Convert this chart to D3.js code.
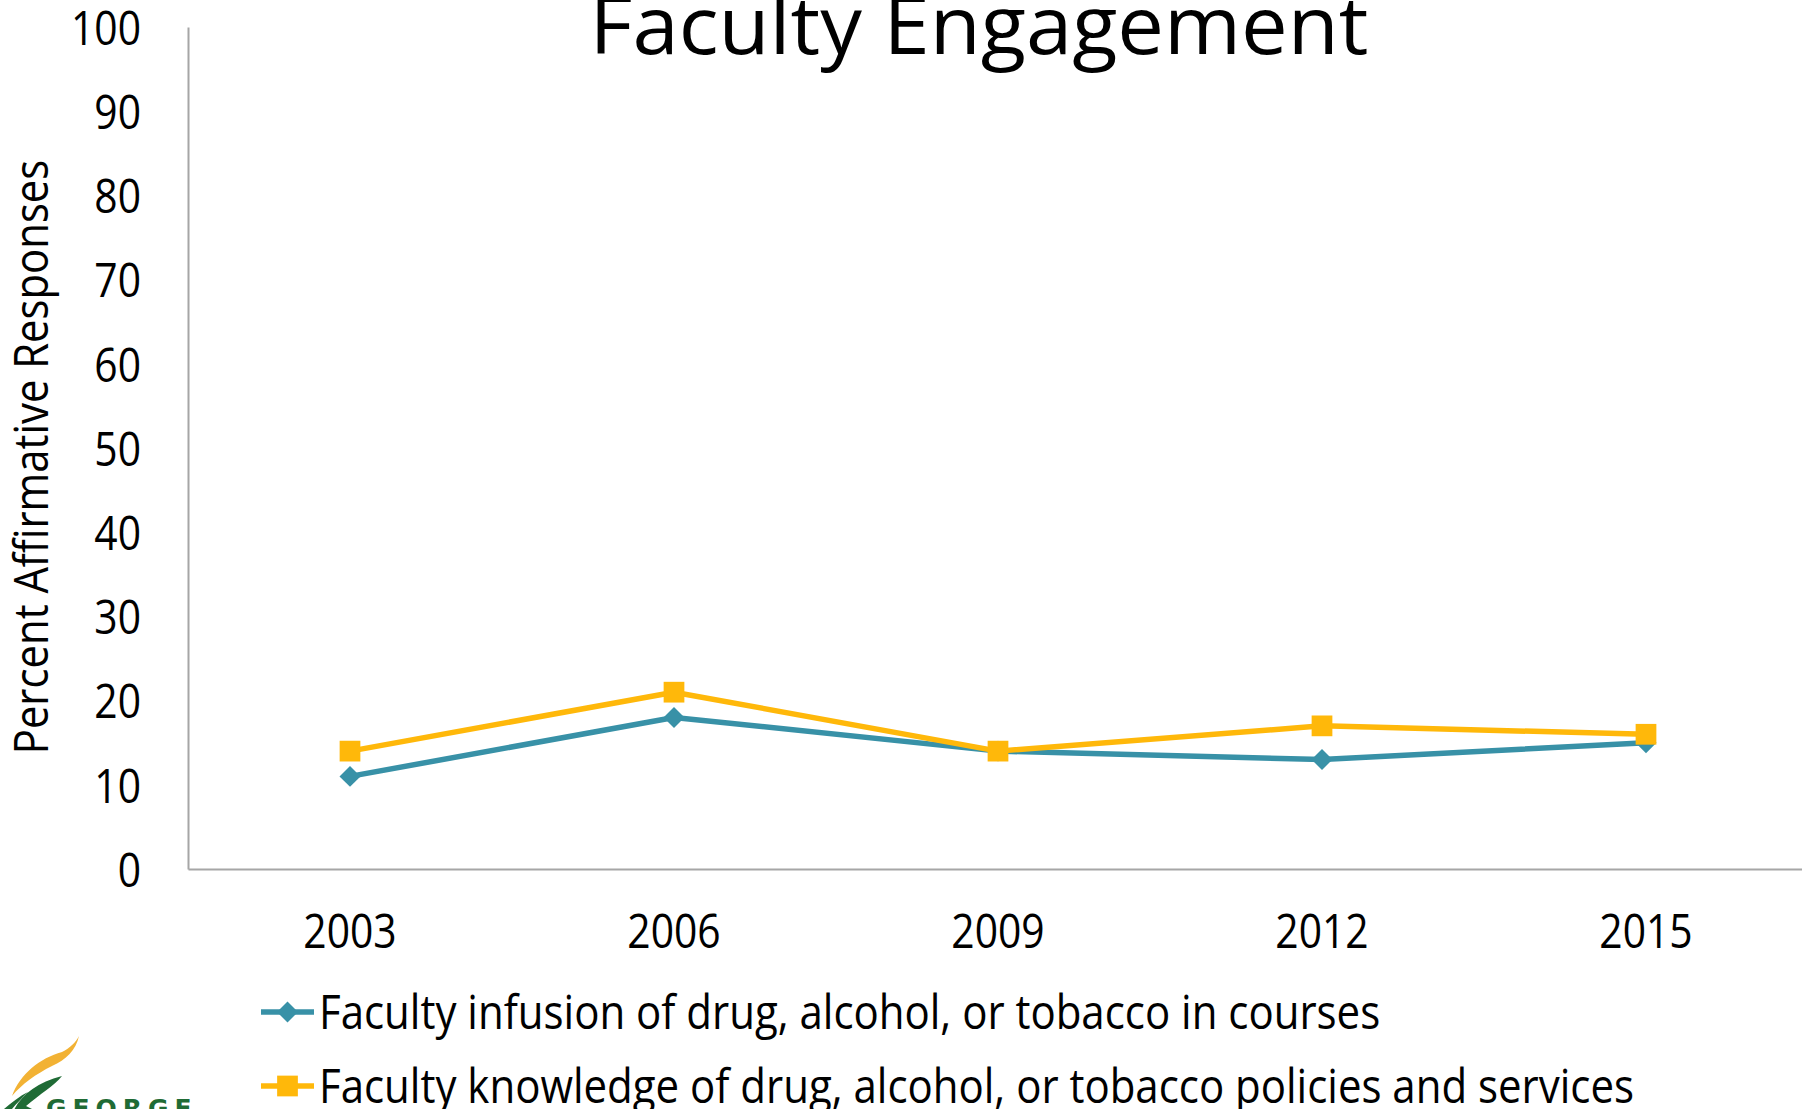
<!DOCTYPE html>
<meta charset="utf-8">
<html lang="en">
<head>
  <title>Faculty Engagement</title>
  <script src="https://d3js.org/d3.v7.min.js"></script>
  <style>
    html, body { margin: 0; padding: 0; background: #fff; overflow: hidden; }
    svg text { font-family: "Open Sans", "DejaVu Sans", sans-serif; fill: #000; }
  </style>
</head>
<body>
<div id="chart"></div>
<script>

// chart data
var years = ["2003", "2006", "2009", "2012", "2015"];
var infusion = [11, 18, 14, 13, 15];
var knowledge = [14, 21, 14, 17, 16];
var seriesNames = [
  "Faculty infusion of drug, alcohol, or tobacco in courses",
  "Faculty knowledge of drug, alcohol, or tobacco policies and services"
];
var yTicks = [0, 10, 20, 30, 40, 50, 60, 70, 80, 90, 100];

var teal = "#3891a7", gold = "#ffb80a";

// the original text is narrow and tall, so squeeze it sideways
var sx = 0.85;

var W = 1802, H = 1109;
var margin = {top: 27, right: -6, bottom: 240, left: 188};

var svg = d3.select("#chart").append("svg")
  .attr("width", W)
  .attr("height", H);

var x = d3.scaleBand()
  .domain(years)
  .range([margin.left, W - margin.right])
  .padding(0);

var y = d3.scaleLinear()
  .domain([0, 100])
  .range([H - margin.bottom, margin.top]);

function squeeze(sel, k) {
  sel.each(function() {
    var t = d3.select(this);
    var tx = +t.attr("x") || 0, ty = +t.attr("y") || 0;
    t.attr("x", 0).attr("y", 0)
      .attr("transform", "translate(" + tx + "," + ty + ") scale(" + k + ",1)");
  });
}

// y axis
var gy = svg.append("g")
  .attr("transform", "translate(" + margin.left + ",0)")
  .call(d3.axisLeft(y).tickValues(yTicks).tickSize(0).tickPadding(47));
gy.select(".domain").attr("stroke", "#a6a6a6").attr("stroke-width", 2);
gy.selectAll("text")
  .style("font-size", "48px")
  .attr("dy", "0.36em");
squeeze(gy.selectAll("text"), sx);

// x axis
var gx = svg.append("g")
  .attr("transform", "translate(0," + y(0) + ")")
  .call(d3.axisBottom(x).tickSize(0).tickPadding(62));
gx.select(".domain").attr("stroke", "#a6a6a6").attr("stroke-width", 2);
gx.selectAll("text")
  .style("font-size", "48px")
  .attr("dy", "0");
squeeze(gx.selectAll("text"), sx);
gx.selectAll("text").attr("dy", "0.36em");

// title
svg.append("text")
  .attr("transform", "translate(979,54) scale(1.04,1)")
  .attr("text-anchor", "middle")
  .style("font-size", "80px")
  .text("Faculty Engagement");

// y axis label
svg.append("text")
  .attr("transform", "translate(31," + ((y(0) + y(100)) / 2 + 9) + ") rotate(-90) scale(0.89,1)")
  .attr("text-anchor", "middle")
  .attr("dy", "0.36em")
  .style("font-size", "47px")
  .text("Percent Affirmative Responses");

// lines and markers
var cx = function(d, i) { return x(years[i]) + x.bandwidth() / 2; };
var line = d3.line()
  .x(cx)
  .y(function(d) { return y(d); });

var diamond = d3.symbol(d3.symbolSquare, 220);
var square = d3.symbol(d3.symbolSquare, 430);

var series = [
  {name: seriesNames[0], values: infusion, color: teal, shape: diamond, rot: 45},
  {name: seriesNames[1], values: knowledge, color: gold, shape: square, rot: 0}
];

series.forEach(function(s) {
  svg.append("path")
    .datum(s.values)
    .attr("fill", "none")
    .attr("stroke", s.color)
    .attr("stroke-width", 5.5)
    .attr("stroke-linejoin", "round")
    .attr("d", line);

  svg.selectAll(null)
    .data(s.values)
    .enter()
    .append("path")
      .attr("d", s.shape)
      .attr("fill", s.color)
      .attr("transform", function(d, i) {
        return "translate(" + cx(d, i) + "," + y(d) + ") rotate(" + s.rot + ")";
      });
});

// legend
var legend = svg.selectAll(".legend")
  .data(series)
  .enter()
  .append("g")
    .attr("class", "legend")
    .attr("transform", function(d, i) { return "translate(261," + (1012 + i * 74) + ")"; });

legend.append("line")
  .attr("x1", 0).attr("x2", 53)
  .attr("stroke", function(d) { return d.color; })
  .attr("stroke-width", 5.5);
legend.append("path")
  .attr("d", function(d) { return d.shape(); })
  .attr("fill", function(d) { return d.color; })
  .attr("transform", function(d) { return "translate(26.5,0) rotate(" + d.rot + ")"; });
legend.append("text")
  .attr("transform", "translate(58,0) scale(0.875,1)")
  .attr("dy", "0.36em")
  .style("font-size", "48px")
  .text(function(d) { return d.name; });

// logo in the lower left corner (cut off by the page edge)
var logo = svg.append("g").attr("transform", "translate(0,1036)");
logo.append("path")
  .attr("d", "M12,60 C20,38 40,22 62,16 C70,12 76,6 79,0 C76,14 66,24 52,30 C36,38 22,48 12,60 Z")
  .attr("fill", "#f2b234");
logo.append("path")
  .attr("d", "M14,74 C22,58 38,46 62,40 C54,50 40,58 26,70 C28,71 30,72 32,73 Z")
  .attr("fill", "#1f6b35");
logo.append("path")
  .attr("d", "M4,73 C12,66 20,60 28,56 C22,62 16,68 12,73 Z")
  .attr("fill", "#1f6b35");
logo.append("text")
  .attr("x", 46)
  .attr("y", 81)
  .style("font-family", "'DejaVu Sans', sans-serif")
  .style("font-weight", "bold")
  .style("font-size", "25px")
  .style("letter-spacing", "6px")
  .style("fill", "#1f6b35")
  .text("GEORGE");

</script>
</body>
</html>
